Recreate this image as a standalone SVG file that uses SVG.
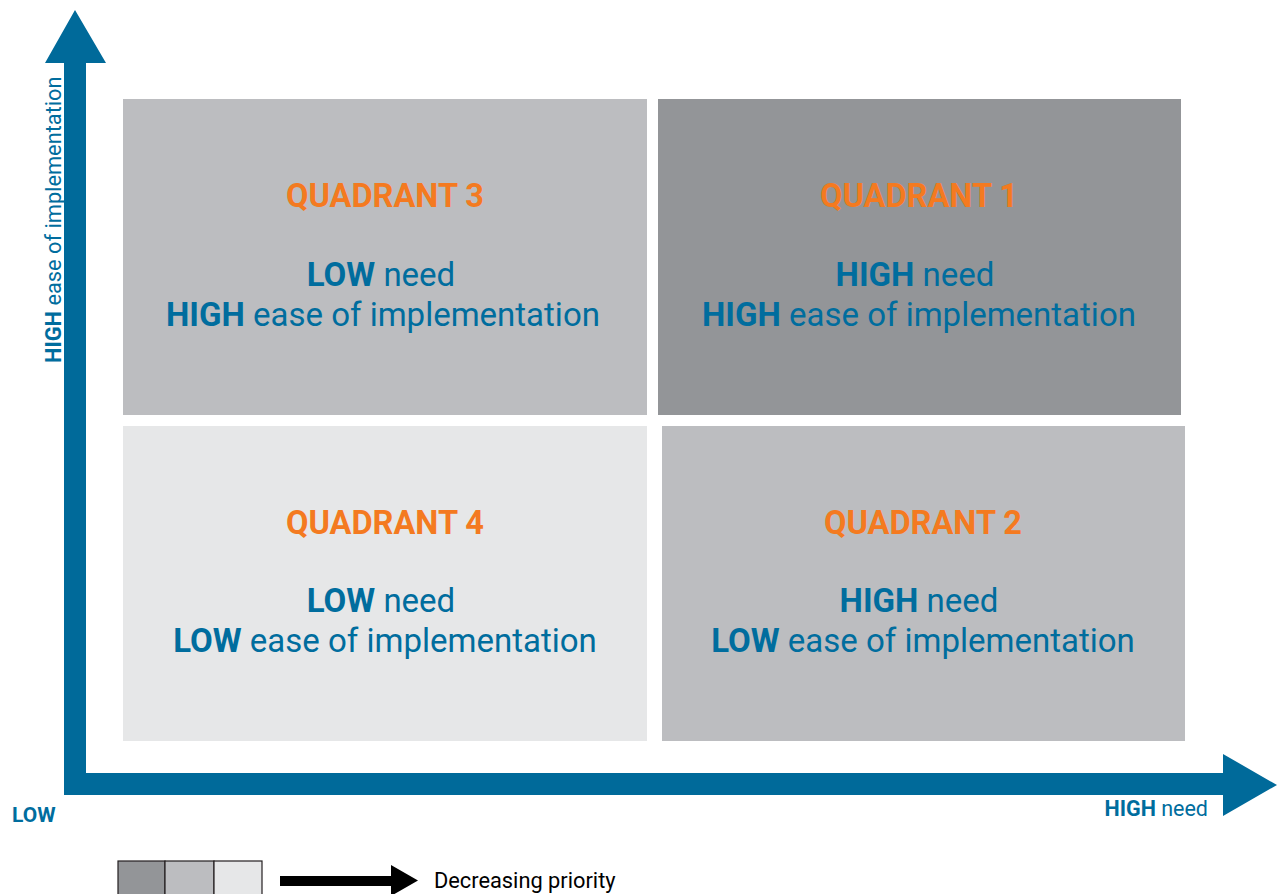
<svg xmlns="http://www.w3.org/2000/svg" width="1281" height="894" viewBox="0 0 1281 894">
<style>
.t{font-family:Roboto,"Liberation Sans",sans-serif;fill:#006d9e}
.q{font-family:Roboto,"Liberation Sans",sans-serif;fill:#f47a20;font-weight:bold;font-size:32.6px;text-anchor:middle}
.m{font-size:33px;text-anchor:middle}
.b{font-weight:bold}
.lg{stroke:#231f20;stroke-width:1.2}
</style>
<rect width="1281" height="894" fill="#ffffff"/>
<g id="q3">
<rect x="123" y="99" width="524" height="316" fill="#bcbdc0"/>
<text class="q" x="385" y="207">QUADRANT 3</text>
<text class="t m" x="381" y="286"><tspan class="b">LOW</tspan> need</text>
<text class="t m" x="383" y="326"><tspan class="b">HIGH</tspan> ease of implementation</text>
</g>
<g id="q1">
<rect x="658" y="99" width="523" height="316" fill="#939598"/>
<text class="q" x="919" y="207">QUADRANT 1</text>
<text class="t m" x="915" y="286"><tspan class="b">HIGH</tspan> need</text>
<text class="t m" x="919" y="326"><tspan class="b">HIGH</tspan> ease of implementation</text>
</g>
<g id="q4">
<rect x="123" y="426" width="524" height="315" fill="#e6e7e8"/>
<text class="q" x="385" y="534">QUADRANT 4</text>
<text class="t m" x="381" y="612"><tspan class="b">LOW</tspan> need</text>
<text class="t m" x="385" y="652"><tspan class="b">LOW</tspan> ease of implementation</text>
</g>
<g id="q2">
<rect x="662" y="426" width="523" height="315" fill="#bcbdc0"/>
<text class="q" x="923" y="534">QUADRANT 2</text>
<text class="t m" x="919" y="612"><tspan class="b">HIGH</tspan> need</text>
<text class="t m" x="923" y="652"><tspan class="b">LOW</tspan> ease of implementation</text>
</g>
<g id="connectors">
<polygon fill="#006a9a" points="75,10 106,63 86,63 86,773 1223,773 1223,754 1277,785 1223,816 1223,795 64,795 64,63 45,63"/>
</g>
<g id="axis-labels">
<text class="t" font-size="21.8" transform="translate(61,363) rotate(-90)"><tspan class="b">HIGH</tspan> ease of implementation</text>
<text class="t b" font-size="21" x="12" y="822">LOW</text>
<text class="t" font-size="21.5" x="1208" y="816" text-anchor="end"><tspan class="b">HIGH</tspan> need</text>
</g>
<g id="legend">
<rect class="lg" x="118" y="861" width="47" height="40" fill="#939598"/>
<rect class="lg" x="165" y="861" width="49" height="40" fill="#bcbdc0"/>
<rect class="lg" x="214" y="861" width="48" height="40" fill="#e6e7e8"/>
<polygon fill="#000000" points="280,876 391,876 391,865 418,880.5 391,896 391,886 280,886"/>
<text font-family="Roboto,'Liberation Sans',sans-serif" font-size="21.8" fill="#000000" x="434" y="888">Decreasing priority</text>
</g>
</svg>
